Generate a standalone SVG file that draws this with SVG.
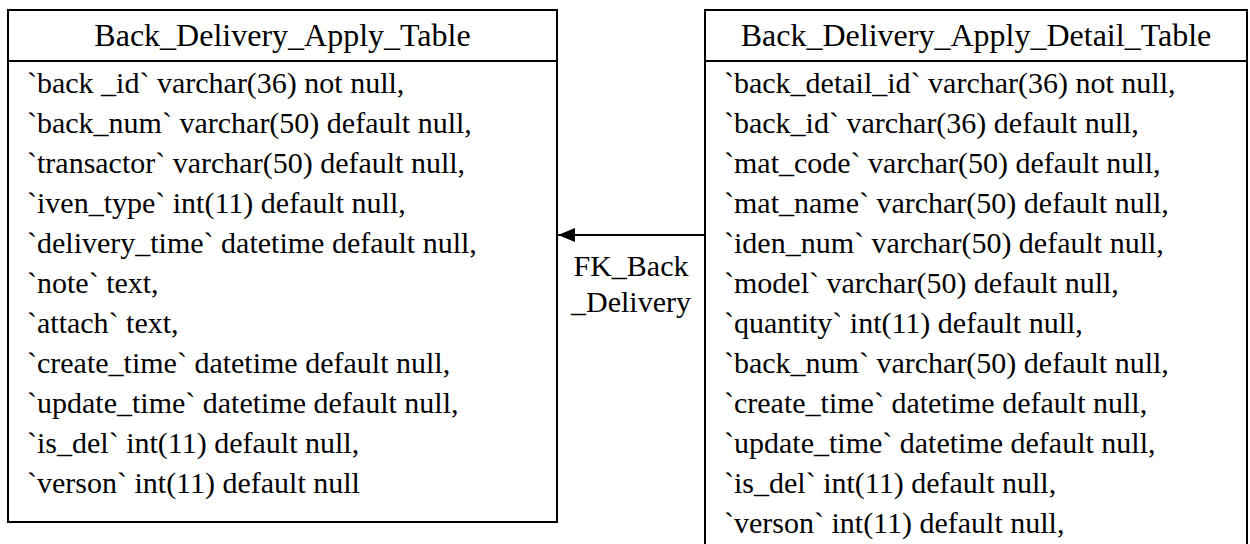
<svg xmlns="http://www.w3.org/2000/svg" width="1250" height="544" viewBox="0 0 1250 544">
<style>
.box{fill:#fff;stroke:#000;stroke-width:2}
.t{font-family:"Liberation Serif","Times New Roman",serif;font-size:30px;fill:#000}
.hd{font-size:32px}
.h{text-anchor:middle}
.c{fill:none;stroke:#000;stroke-width:2}
</style>
<defs>
<marker id="arr" markerWidth="17" markerHeight="14" refX="17" refY="7" orient="auto" markerUnits="userSpaceOnUse">
<path d="M0,0 L17,7 L0,14 Z" fill="#000"/>
</marker>
</defs>
<rect width="1250" height="544" fill="#fff"/>
<g id="back_delivery_apply_table">
<rect class="box" x="8" y="10" width="549" height="512"/>
<line class="c" x1="8" y1="61" x2="557" y2="61"/>
<text class="t hd h" x="282.5" y="46">Back_Delivery_Apply_Table</text>
<text class="t" x="27" y="93">`back _id` varchar(36) not null,</text>
<text class="t" x="27" y="133">`back_num` varchar(50) default null,</text>
<text class="t" x="27" y="173">`transactor` varchar(50) default null,</text>
<text class="t" x="27" y="213">`iven_type` int(11) default null,</text>
<text class="t" x="27" y="253">`delivery_time` datetime default null,</text>
<text class="t" x="27" y="293">`note` text,</text>
<text class="t" x="27" y="333">`attach` text,</text>
<text class="t" x="27" y="373">`create_time` datetime default null,</text>
<text class="t" x="27" y="413">`update_time` datetime default null,</text>
<text class="t" x="27" y="453">`is_del` int(11) default null,</text>
<text class="t" x="27" y="493">`verson` int(11) default null</text>
</g>
<g id="back_delivery_apply_detail_table">
<rect class="box" x="705" y="10" width="542" height="560"/>
<line class="c" x1="705" y1="61" x2="1247" y2="61"/>
<text class="t hd h" x="976" y="46">Back_Delivery_Apply_Detail_Table</text>
<text class="t" x="724" y="93">`back_detail_id` varchar(36) not null,</text>
<text class="t" x="724" y="133">`back_id` varchar(36) default null,</text>
<text class="t" x="724" y="173">`mat_code` varchar(50) default null,</text>
<text class="t" x="724" y="213">`mat_name` varchar(50) default null,</text>
<text class="t" x="724" y="253">`iden_num` varchar(50) default null,</text>
<text class="t" x="724" y="293">`model` varchar(50) default null,</text>
<text class="t" x="724" y="333">`quantity` int(11) default null,</text>
<text class="t" x="724" y="373">`back_num` varchar(50) default null,</text>
<text class="t" x="724" y="413">`create_time` datetime default null,</text>
<text class="t" x="724" y="453">`update_time` datetime default null,</text>
<text class="t" x="724" y="493">`is_del` int(11) default null,</text>
<text class="t" x="724" y="533">`verson` int(11) default null,</text>
</g>
<g id="connectors">
<line class="c" x1="705" y1="235" x2="558" y2="235" marker-end="url(#arr)"/>
<text class="t h" x="631" y="276">FK_Back</text>
<text class="t h" x="631" y="312">_Delivery</text>
</g>
</svg>
